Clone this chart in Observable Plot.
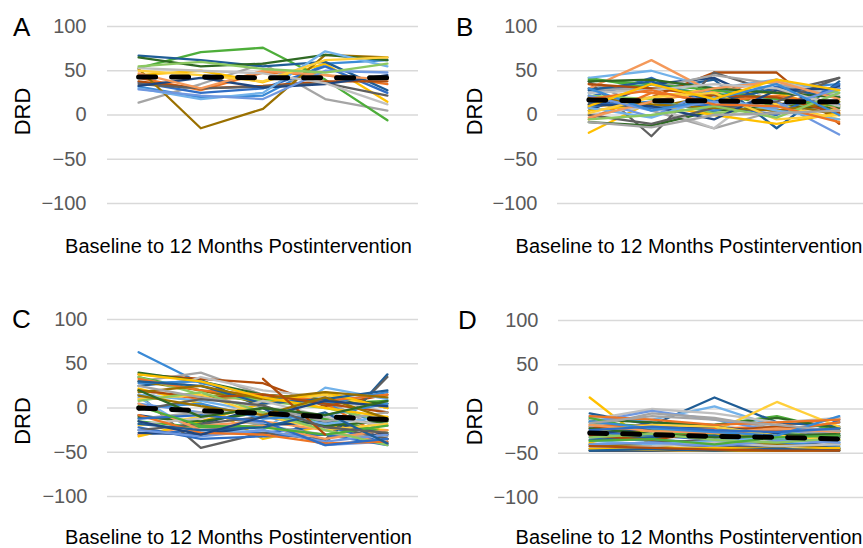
<!DOCTYPE html>
<html>
<head>
<meta charset="utf-8">
<script src="https://cdn.jsdelivr.net/npm/d3@7"></script>
<script src="https://cdn.jsdelivr.net/npm/@observablehq/plot@0.6"></script>
<style>
html, body { margin: 0; padding: 0; background: #fff; width: 863px; height: 548px; overflow: hidden; }
#wrap { position: relative; width: 863px; height: 548px; overflow: hidden; font-family: "Liberation Sans", Arial, sans-serif; }
#wrap > svg { position: absolute; }
</style>
</head>
<body>
<div id="wrap"></div>
<script>
// ---------- data ----------
const timepoints = [0, 1, 2, 3, 4];
const yTicks = [-100, -50, 0, 50, 100];
const panelLetters = ["A", "B", "C", "D"];
const xLabel = "Baseline to 12 Months Postintervention";
const yLabel = "DRD";

const seriesA = [
  [32, 20, 22, 58, 62], [42, 28, 48, 45, 35], [14, 35, 58, 18, 5], [45, 50, 37, 58, 15],
  [37, 25, 30, 55, 25], [53, 71, 76, 40, -6], [67, 62, 55, 60, 28], [38, 30, 33, 38, 38],
  [35, 30, 32, 36, 22], [52, -15, 7, 68, 65], [33, 42, 31, 35, 45], [65, 55, 58, 68, 62],
  [30, 18, 25, 72, 55], [47, 30, 50, 45, 40], [53, 50, 47, 36, 12], [50, 45, 38, 62, 65],
  [29, 22, 18, 50, 48], [55, 60, 52, 48, 58]
];
const meanA = [43, 43, 42, 42, 42];

const seriesB = [
  [25, 35, 22, 30, 35], [35, 25, 20, 28, 12], [38, 5, -15, 5, 8], [-20, 15, 28, 25, 5],
  [20, 42, 10, 32, 30], [42, 30, 25, 10, 15], [30, 28, 40, -15, 38], [8, 20, 48, 48, -10],
  [38, -24, 48, 25, 42], [12, 8, 22, 14, 0], [5, 35, 42, 10, 33], [-8, -12, 5, 10, 8],
  [42, 50, 30, 40, 25], [30, 62, 25, 40, 5], [0, 10, -15, 38, 22], [15, 20, 30, 12, -5],
  [18, -2, 30, 15, -22], [22, 18, 2, 8, 28], [10, 15, 5, 20, 12], [-5, 25, 15, 22, 10],
  [28, 30, 45, 35, 20], [5, 12, 0, -10, 2], [15, 8, 12, 0, 35], [40, 35, 28, 18, 10],
  [28, 38, 15, 30, 20], [35, 30, 22, 20, 2], [0, -10, 8, 15, 42], [20, 12, 8, 5, 15],
  [12, 10, -5, 28, 30], [38, 40, 30, 25, 20], [8, -3, 20, 5, -5], [-3, 15, 30, 38, 18],
  [25, 28, 35, 30, 10], [2, 20, 25, -5, 0], [22, 5, 15, 8, 30], [-5, 0, 10, -3, 25],
  [30, 5, 18, 35, 0], [18, 28, 12, 10, -8], [-8, -14, 0, 2, 5], [10, 35, 18, 40, 28]
];
const meanB = [17, 16, 16, 15, 15];

const seriesC = [
  [63, 28, 15, 5, -20], [20, 10, 12, 5, -35], [30, 40, 15, 10, -30], [22, 5, -35, -20, -25],
  [-30, -25, -28, -20, -40], [35, 20, 10, 5, 8], [25, 32, 0, -40, 38], [38, 33, 28, 2, 15],
  [15, -45, -28, -36, 35], [30, 20, 5, 15, 0], [-8, -18, 0, -12, -35], [40, 30, 15, 10, 5],
  [12, -30, -25, 23, 10], [-30, -20, -15, -25, -40], [10, 35, 20, 12, -5], [-20, -10, 5, 15, 0],
  [5, -5, -18, -42, -38], [35, 15, 8, 0, -15], [28, 30, 12, 5, 18], [33, 20, 15, 8, 15],
  [-12, -5, -20, -30, -32], [-32, -15, 5, 18, 0], [-22, -35, -32, -30, -42], [-15, -22, -20, -12, -28],
  [30, 25, 5, 10, 20], [20, 12, 15, 5, -5], [-25, -18, -10, -20, -35], [18, 25, 10, 18, 12],
  [-28, -30, -20, -15, -30], [-10, -15, -5, -20, -15], [15, 8, -5, -18, -10], [5, -25, -20, -35, -25],
  [-18, -12, 8, -10, -20], [10, 15, -8, -25, -18], [-25, -32, -25, -38, -30], [8, 18, -5, -25, -42],
  [0, 5, -12, -8, 5], [-8, -28, -30, -40, -38], [25, 12, 2, -15, -5], [38, 30, 12, 0, -10],
  [-12, -8, -15, -42, -35], [2, -20, -22, -30, -20], [-18, -25, -22, -5, -40], [null, null, 33, -30, null],
  [-2, 10, 3, -22, -28], [14, 2, -8, 12, -12], [-15, -30, -10, 8, 2], [20, -10, 0, -8, 8]
];
const meanC = [0, -3, -6, -10, -13];

const seriesD = [
  [-8, -15, -20, -25, -15], [-20, -25, -22, -20, -10], [-40, -45, -44, -42, -40], [13, -42, -47, -47, -46],
  [-30, -35, -38, -45, -12], [-15, -20, -18, -8, -25], [-5, -18, 13, -15, -20], [-22, -18, -25, -30, -22],
  [-45, -40, -42, -44, -35], [-47, -47, -47, -47, -47], [-47, -47, -45, -45, -45], [-12, -15, -18, -10, -22],
  [-10, -12, 3, -20, -30], [-25, -28, -30, -35, -32], [-12, 0, -5, -15, -10], [-35, -30, -25, 8, -20],
  [-15, -2, -12, -25, -28], [-28, -32, -30, -25, -35], [-32, -36, -40, -38, -42], [-18, -20, -28, -24, -15],
  [-20, -5, -10, -22, -30], [-38, -22, -30, -28, -40], [-26, -30, -35, -32, -38], [-10, -25, -30, -35, -30],
  [-35, -32, -30, -40, -44], [-30, -35, -25, -20, -25], [-42, -38, -35, -38, -30], [-40, -42, -38, -40, -45],
  [-28, -22, -20, -28, -32], [-22, -28, -32, -30, -28], [-36, -40, -36, -33, -36], [-18, -25, -27, -22, -26],
  [-44, -42, -38, -42, -40], [-25, -18, -20, -30, -35], [-40, -38, -42, -36, -38], [-32, -28, -35, -38, -33],
  [-14, -22, -26, -30, -8], [-8, -12, -18, -15, -12], [-16, -8, -12, -18, -25], [-45, -46, -44, -45, -44],
  [-24, -20, -24, -26, -22], [-36, -34, -40, -32, -30], [-47, -45, -47, -45, -47], [-42, -44, -46, -47, -47]
];
const meanD = [-27, -29, -31, -32, -34];

// ---------- styles ----------
const palette = [
  "#3a8ad6", "#ed7424", "#a5a5a5", "#ffc000", "#2f6dc4", "#4eae3a",
  "#1f5d96", "#b04c0c", "#5f5f5f", "#9a7000", "#1f467f", "#2f6a24",
  "#72b2ea", "#f4995a", "#c0c0c0", "#ffcf3a", "#6f98e0", "#8cc862"
];
const fontFamily = "'Liberation Sans', Arial, sans-serif";
const fmt = d => d < 0 ? "\u2212" + Math.abs(d) : String(d);

const layouts = [
  {left: 0,   top: 0,   w: 430, h: 230, ml: 107, mr: 12, mt: 26, mb: 27, pad: 21},
  {left: 430, top: 0,   w: 440, h: 230, ml: 127, mr: 0,  mt: 26, mb: 27, pad: 20},
  {left: 0,   top: 290, w: 430, h: 230, ml: 107, mr: 12, mt: 29, mb: 24, pad: 20},
  {left: 430, top: 290, w: 440, h: 230, ml: 128, mr: 0,  mt: 30, mb: 23, pad: 20}
];
const labelPos = [
  {lx: 13,  ly: 36,  dx: 30,  dy: 111.5, xx: 238.5, xy: 253},
  {lx: 456, ly: 36,  dx: 482, dy: 111.5, xx: 689,   xy: 253},
  {lx: 12,  ly: 328, dx: 30,  dy: 421,   xx: 238.5, xy: 543.5},
  {lx: 458, ly: 329, dx: 482, dy: 421.5, xx: 689,   xy: 543.5}
];

const allSeries = [seriesA, seriesB, seriesC, seriesD];
const allMeans = [meanA, meanB, meanC, meanD];
const wrap = document.getElementById("wrap");

allSeries.forEach((series, p) => {
  const L = layouts[p];
  const rows = [];
  series.forEach((vals, i) => vals.forEach((v, t) => rows.push({id: i, t: timepoints[t], v: v == null ? NaN : v})));
  const meanRows = allMeans[p].map((v, t) => ({t: timepoints[t], v}));
  const chart = Plot.plot({
    width: L.w, height: L.h,
    marginLeft: L.ml, marginRight: L.mr, marginTop: L.mt, marginBottom: L.mb,
    x: {domain: [-0.5, 4.5], axis: null},
    y: {domain: [-100, 100], axis: null},
    color: {type: "identity"},
    style: {fontFamily, background: "transparent", overflow: "visible"},
    marks: [
      Plot.ruleY(yTicks, {stroke: "#d9d9d9", strokeWidth: 1.5}),
      Plot.axisY({ticks: yTicks, tickSize: 0, tickPadding: L.pad, fontSize: 20, color: "#595959", label: null, tickFormat: fmt}),
      Plot.line(rows, {x: "t", y: "v", z: "id", stroke: d => palette[d.id % palette.length], strokeWidth: 2.3, strokeLinejoin: "round"}),
      Plot.line(meanRows, {x: "t", y: "v", stroke: "#000", strokeWidth: 5, strokeDasharray: "17,16"})
    ]
  });
  chart.style.left = L.left + "px";
  chart.style.top = L.top + "px";
  wrap.appendChild(chart);
});

// ---------- text labels ----------
const svg = d3.select(wrap).append("svg")
  .attr("width", 863).attr("height", 548)
  .style("left", "0px").style("top", "0px")
  .style("font-family", fontFamily);
labelPos.forEach((P, p) => {
  svg.append("text").attr("x", P.lx).attr("y", P.ly)
    .attr("font-size", 26).attr("fill", "#000").text(panelLetters[p]);
  svg.append("text").attr("transform", `translate(${P.dx},${P.dy}) rotate(-90)`)
    .attr("text-anchor", "middle").attr("font-size", 22).attr("fill", "#000").text(yLabel);
  svg.append("text").attr("x", P.xx).attr("y", P.xy)
    .attr("text-anchor", "middle").attr("font-size", 20).attr("fill", "#000").text(xLabel);
});
</script>
</body>
</html>
